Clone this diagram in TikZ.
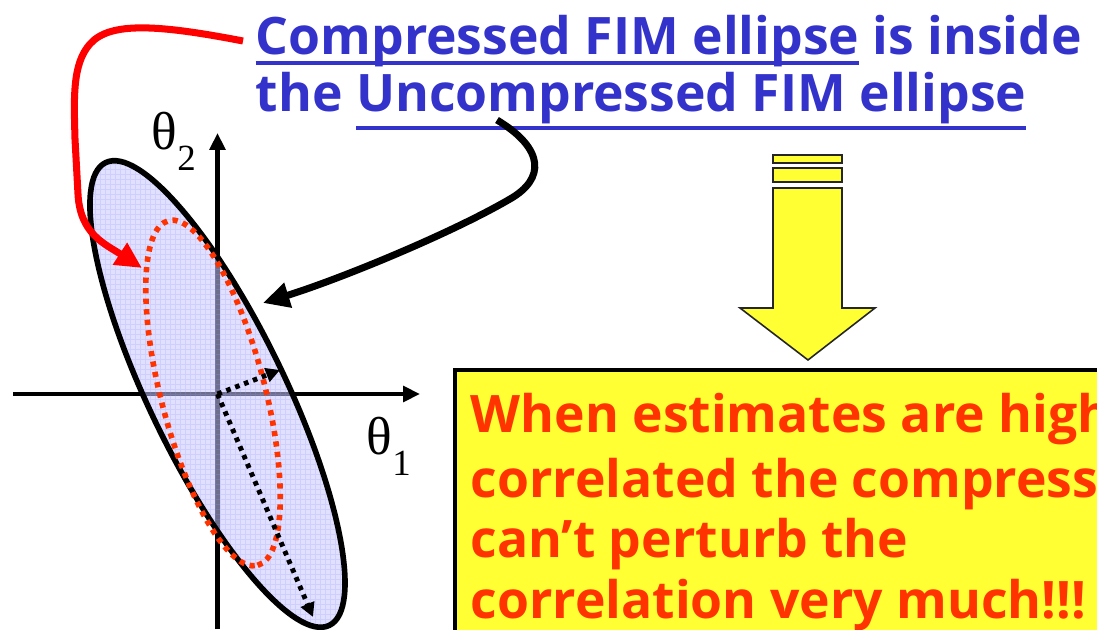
\documentclass[tikz,border=0pt]{standalone}
\usepackage{fontspec}
\setmainfont{Open Sans}
\newfontfamily\thetafont{Liberation Serif}
\usetikzlibrary{arrows.meta}
\definecolor{titleblue}{RGB}{51,51,204}
\definecolor{warnred}{RGB}{255,51,0}
\definecolor{noteyellow}{RGB}{255,255,51}
\definecolor{fimfill}{RGB}{200,200,255}
\definecolor{fimgrid}{RGB}{150,150,255}
% underline with a given depth below the baseline
\newsavebox\ulbox
\newcommand\fimul[2]{\sbox\ulbox{#2}\rlap{\rule[-#1]{\wd\ulbox}{1.2pt}}\usebox\ulbox}

\begin{document}
\begin{tikzpicture}[
    >={Triangle[length=4.8pt,width=4.4pt]},
    axis/.style={line width=1.2pt, ->},
    pointer/.style={line width=2pt, -{Triangle[length=7.5pt,width=7pt]}},
    dotarrow/.style={line width=1.4pt, dash pattern=on 1.3pt off 1.4pt, -{Triangle[length=4pt,width=4pt]}},
    headtext/.style={anchor=base west, inner sep=0pt, text=titleblue, font=\fontsize{14.7pt}{16pt}\selectfont\bfseries},
    notetext/.style={anchor=base west, inner sep=0pt, text=warnred, font=\fontsize{14.7pt}{16pt}\selectfont\bfseries},
    axlabel/.style={anchor=base west, inner sep=0pt, font=\thetafont\fontsize{15.2pt}{17pt}\selectfont}
]
\useasboundingbox (0,0) rectangle (10.97,6.29);
\coordinate (O) at (2.175,2.35);

% axes
\draw[axis] (0.13,2.35) -- (4.20,2.35);
\draw[axis] (2.175,0) -- (2.175,4.96);
\node[axlabel] (th2) at (1.51,4.79) {θ\raisebox{-5.7pt}{\fontsize{10.5pt}{12pt}\selectfont 2}};
\node[axlabel] (th1) at (3.66,1.74) {θ\raisebox{-5.7pt}{\fontsize{10.5pt}{12pt}\selectfont 1}};

% uncompressed FIM ellipse (filled, with faint grid)
\begin{scope}
    \clip[rotate around={-64.2:(O)}] (O) ellipse (2.57 and 0.68);
    \fill[fimfill, fill opacity=0.55] (0,-0.5) rectangle (4.5,5.5);
    \draw[fimgrid, draw opacity=0.25, line width=0.25pt, step=0.05] (0,-0.5) grid (4.5,5.5);
\end{scope}
\draw[line width=1.6pt, rotate around={-64.2:(O)}] (O) ellipse (2.57 and 0.68);

% compressed FIM ellipse
\draw[warnred, line width=1.6pt, dash pattern=on 1.5pt off 1.5pt,
    rotate around={-75.5:(2.13,2.36)}] (2.13,2.36) ellipse (1.78 and 0.52);

% principal axes
\coordinate (minor) at (2.80,2.59);
\coordinate (major) at (3.13,0.12);
\draw[dotarrow] (O) -- (minor);
\draw[dotarrow] (O) -- (major);

% heading
\node[headtext] (head1) at (2.55,5.74) {\fimul{2.8pt}{Compressed FIM ellipse} is inside};
\node[headtext] (head2) at (2.55,5.17) {the \fimul{5.1pt}{Uncompressed FIM ellipse}};

% pointers into the picture
\coordinate (redstart) at (2.43,5.88);
\coordinate (redtip) at (1.42,3.61);
\coordinate (blackstart) at (4.97,5.09);
\coordinate (blacktip) at (2.63,3.26);
\draw[pointer, red] (redstart) .. controls (1.6,6.04) and (1.1,6.08) .. (0.9,5.85)
    .. controls (0.72,5.65) and (0.74,5.3) .. (0.75,4.9) -- (0.78,4.35)
    .. controls (0.8,3.95) and (1.05,3.85) .. (redtip);
\draw[pointer] (blackstart) .. controls (5.45,4.8) and (5.45,4.5) .. (5.1,4.3)
    .. controls (4.5,3.95) and (3.4,3.5) .. (blacktip);

% block arrow
\begin{scope}[fill=noteyellow, draw=black!85, line width=0.45pt]
    \filldraw (7.73,4.66) rectangle (8.42,4.74);
    \filldraw (7.73,4.47) rectangle (8.42,4.61);
    \filldraw (7.73,4.41) -- (8.42,4.41) -- (8.42,3.21) -- (8.75,3.21)
        -- (8.08,2.69) -- (7.40,3.21) -- (7.73,3.21) -- cycle;
\end{scope}

% note box
\draw[fill=noteyellow, line width=1.4pt] (4.55,-0.5) rectangle (11.5,2.59);
\foreach \i/\y/\txt in {1/1.97/When estimates are high, 2/1.32/correlated the compress,
    3/0.72/can't perturb the, 4/0.11/correlation very much!!!} {
    \node[notetext] (note\i) at (4.70,\y) {\txt};
}
\end{tikzpicture}
\end{document}
